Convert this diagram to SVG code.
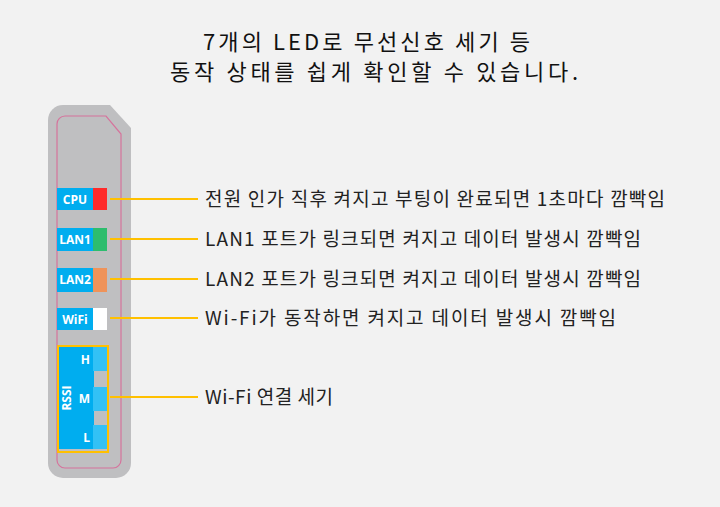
<svg xmlns="http://www.w3.org/2000/svg" width="720" height="507" viewBox="0 0 720 507">
<style>
.t{font-family:"Noto Sans CJK KR","Noto Sans",sans-serif;font-size:19px;fill:#222}
.h{font-family:"Noto Sans CJK KR","Noto Sans",sans-serif;font-size:22px;fill:#111}
.l{font-family:"Open Sans","Noto Sans",sans-serif;font-size:12px;font-weight:bold;fill:#fff}
.c{stroke:#ffc000;stroke-width:2;fill:none}
.b{fill:#00adef}
</style>
<rect width="720" height="507" fill="#f2f2f2"/>
<text class="h" x="203" y="50" textLength="327" lengthAdjust="spacing">7개의 LED로 무선신호 세기 등</text>
<text class="h" x="170" y="80" textLength="408" lengthAdjust="spacing">동작 상태를 쉽게 확인할 수 있습니다.</text>
<g id="device">
<path d="M63,105 H110 L131,128 V463 A15,15 0 0 1 116,478 H63 A15,15 0 0 1 48,463 V120 A15,15 0 0 1 63,105 Z" fill="#bfbfc1"/>
<path d="M65,116 H106 L121,134 V460 A8,8 0 0 1 113,468 H65 A8,8 0 0 1 57,460 V124 A8,8 0 0 1 65,116 Z" fill="none" stroke="#d6739c" stroke-width="1.2"/>
</g>
<g id="cpu"><rect class="b" x="57" y="188" width="36" height="22"/><rect x="93" y="188" width="14" height="22" fill="#ff2a2a"/><text class="l" x="75" y="204" text-anchor="middle">CPU</text></g>
<g id="lan1"><rect class="b" x="57" y="228" width="36" height="23"/><rect x="93" y="228" width="14" height="23" fill="#2dbd6e"/><text class="l" x="75" y="244" text-anchor="middle">LAN1</text></g>
<g id="lan2"><rect class="b" x="57" y="268" width="36" height="24"/><rect x="93" y="268" width="14" height="24" fill="#ef935a"/><text class="l" x="75" y="284" text-anchor="middle">LAN2</text></g>
<g id="wifi"><rect class="b" x="57" y="308" width="36" height="22"/><rect x="93" y="308" width="14" height="22" fill="#fff"/><text class="l" x="75" y="324" text-anchor="middle">WiFi</text></g>
<g id="rssi">
<rect x="58" y="346" width="50" height="106" fill="#bfbfc1" stroke="#ffc000" stroke-width="2"/>
<rect class="b" x="59" y="347" width="35" height="102"/>
<rect x="93" y="347" width="14" height="24" fill="#33c1f5"/>
<rect x="93" y="387" width="14" height="24" fill="#33c1f5"/>
<rect x="93" y="425" width="14" height="24" fill="#33c1f5"/>
<text class="l" x="90" y="364" text-anchor="end">H</text>
<text class="l" x="90" y="403" text-anchor="end">M</text>
<text class="l" x="90" y="442" text-anchor="end">L</text>
<text class="l" transform="translate(71,398) rotate(-90)" text-anchor="middle" font-size="11">RSSI</text>
</g>
<g id="connectors">
<path class="c" d="M110,199H198M110,239H198M110,279H198M110,318H198M110,397H198"/>
</g>
<g id="labels">
<text class="t" x="205" y="206" textLength="460" lengthAdjust="spacing">전원 인가 직후 켜지고 부팅이 완료되면 1초마다 깜빡임</text>
<text class="t" x="205" y="246" textLength="436" lengthAdjust="spacing">LAN1 포트가 링크되면 켜지고 데이터 발생시 깜빡임</text>
<text class="t" x="205" y="286" textLength="436" lengthAdjust="spacing">LAN2 포트가 링크되면 켜지고 데이터 발생시 깜빡임</text>
<text class="t" x="205" y="325" textLength="411" lengthAdjust="spacing">Wi-Fi가 동작하면 켜지고 데이터 발생시 깜빡임</text>
<text class="t" x="205" y="404" textLength="128" lengthAdjust="spacing">Wi-Fi 연결 세기</text>
</g>
</svg>
